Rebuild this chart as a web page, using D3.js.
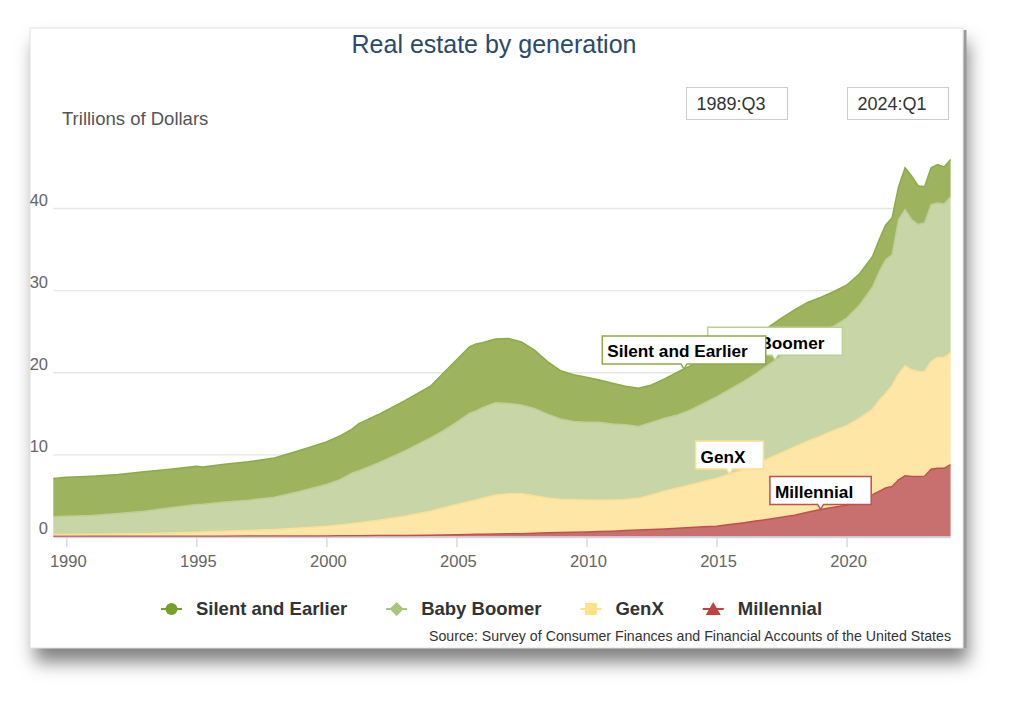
<!DOCTYPE html>
<html>
<head>
<meta charset="utf-8">
<script src="https://cdn.jsdelivr.net/npm/d3@7/dist/d3.min.js"></script>
<style>
  body { margin: 0; background: #fff; }
  svg { display: block; font-family: "Liberation Sans", Arial, sans-serif; }
</style>
</head>
<body>
<div id="chart"></div>
<script>
// Quarterly dates (denser where the shape changes)
const quarters = ["1989:Q3","1990:Q1","1991:Q1","1992:Q1","1993:Q1","1994:Q1","1995:Q1","1995:Q2","1996:Q1","1997:Q1",
  "1998:Q1","1999:Q1","2000:Q1","2000:Q3","2001:Q1","2001:Q2","2002:Q1","2003:Q1","2004:Q1","2004:Q3",
  "2005:Q1","2005:Q3","2005:Q4","2006:Q1","2006:Q3","2007:Q1","2007:Q3","2008:Q1","2008:Q3","2009:Q1",
  "2009:Q3","2010:Q1","2010:Q3","2011:Q1","2011:Q3","2012:Q1","2012:Q3","2013:Q1","2013:Q3","2014:Q1",
  "2014:Q3","2015:Q1","2015:Q3","2016:Q1","2016:Q3","2017:Q1","2017:Q3","2018:Q1","2018:Q3","2019:Q1",
  "2019:Q3","2020:Q1","2020:Q3","2021:Q1","2021:Q2","2021:Q3","2021:Q4","2022:Q1","2022:Q2","2022:Q3",
  "2022:Q4","2023:Q1","2023:Q2","2023:Q3","2023:Q4","2024:Q1"];

// Trillions of dollars, per generation
const silent = [4.66,4.73,4.80,4.75,4.79,4.71,4.66,4.53,4.58,4.67,
  4.78,5.00,5.17,5.30,5.35,5.75,5.88,6.10,6.30,7.00,
  7.60,8.10,8.15,7.90,7.75,7.90,7.70,7.10,6.40,5.90,
  5.70,5.50,5.15,4.95,4.70,4.65,4.55,4.80,5.20,5.40,
  5.30,5.20,5.00,4.80,4.70,4.60,4.60,4.60,4.50,4.20,
  4.20,4.00,3.80,3.70,3.90,4.20,4.50,4.00,5.10,5.30,
  4.70,4.40,4.50,4.70,4.50,4.50];
const boomer = [2.15,2.22,2.27,2.50,2.75,3.07,3.38,3.37,3.55,3.69,
  3.94,4.45,5.08,5.50,6.17,6.32,6.99,7.93,8.92,9.41,
  10.00,10.75,10.85,11.05,11.25,11.00,10.80,10.65,10.20,9.75,
  9.50,9.45,9.45,9.25,9.10,8.75,8.85,8.85,8.90,9.10,
  9.50,9.90,10.30,10.70,11.00,11.40,11.80,12.10,12.40,12.70,
  12.70,13.10,13.80,14.90,15.60,16.30,15.90,18.80,19.00,18.30,
  17.90,18.10,19.10,18.80,18.70,19.00];
const genx = [0.23,0.23,0.26,0.27,0.30,0.39,0.48,0.51,0.59,0.68,
  0.80,0.99,1.18,1.32,1.49,1.58,1.87,2.34,2.93,3.32,
  3.70,4.00,4.18,4.37,4.75,4.88,4.85,4.56,4.25,4.05,
  3.98,3.90,3.85,3.80,3.78,3.85,4.20,4.63,4.90,5.20,
  5.52,5.85,6.15,6.45,6.92,7.40,7.85,8.30,8.65,8.90,
  9.35,9.70,10.00,10.40,11.10,11.50,12.30,12.90,13.40,13.00,
  12.80,12.75,13.10,13.50,13.50,13.64];
const millennial = [0.02,0.02,0.02,0.03,0.03,0.03,0.04,0.04,0.04,0.05,
  0.05,0.06,0.07,0.08,0.09,0.10,0.11,0.13,0.15,0.17,
  0.20,0.25,0.27,0.28,0.30,0.32,0.35,0.39,0.45,0.50,
  0.52,0.55,0.60,0.65,0.72,0.80,0.85,0.92,1.00,1.10,
  1.18,1.25,1.45,1.65,1.88,2.10,2.35,2.60,2.95,3.30,
  3.55,3.80,4.40,5.10,5.50,5.90,6.10,6.90,7.40,7.30,
  7.30,7.35,8.20,8.30,8.30,8.76];

const seriesNames = ["Silent and Earlier", "Baby Boomer", "GenX", "Millennial"];
const xTicks = [1990, 1995, 2000, 2005, 2010, 2015, 2020];
const yTicks = [0, 10, 20, 30, 40];
// quarter each in-chart label points at
const labelQuarters = {"Silent and Earlier": "2013:Q4", "Baby Boomer": "2017:Q2", "GenX": "2015:Q3", "Millennial": "2019:Q1"};
const rangeLabels = ["1989:Q3", "2024:Q1"];

const W = 1024, H = 709;
const plot = {left: 53.3, right: 950.6, top: 208, bottom: 536.5};

const fills = {"Silent and Earlier": "#9eb35e", "Baby Boomer": "#c8d5a6", "GenX": "#fde6a6", "Millennial": "#c87070"};
const lines = {"Silent and Earlier": "#8cab48", "Baby Boomer": "#bccf94", "GenX": "#fcdf96", "Millennial": "#c0504d"};
const markers = {"Silent and Earlier": "#77a02b", "Baby Boomer": "#a9c47f", "GenX": "#fde28a", "Millennial": "#c0413f"};

const toYear = q => +q.slice(0, 4) + (+q.slice(6) - 1) / 4;

const rows = quarters.map((q, i) => ({
  t: toYear(q),
  "Silent and Earlier": silent[i],
  "Baby Boomer": boomer[i],
  "GenX": genx[i],
  "Millennial": millennial[i]
}));

const stack = d3.stack().keys(seriesNames.slice().reverse());
const layers = stack(rows);

const x = d3.scaleLinear().domain([toYear(quarters[0]), toYear(quarters[quarters.length - 1])])
  .range([plot.left, plot.right]);
const y = d3.scaleLinear().domain([0, 40]).range([plot.bottom, plot.top]);

const svg = d3.select("#chart").append("svg").attr("width", W).attr("height", H);

// card with drop shadow
const defs = svg.append("defs");
const f = defs.append("filter").attr("id", "shadow").attr("x", "-10%").attr("y", "-10%").attr("width", "125%").attr("height", "130%");
f.append("feDropShadow").attr("dx", 5).attr("dy", 14).attr("stdDeviation", 9)
  .attr("flood-color", "#000").attr("flood-opacity", 0.5);

svg.append("rect").attr("x", 30).attr("y", 28).attr("width", 933).attr("height", 620)
  .attr("fill", "#fff").attr("filter", "url(#shadow)");
svg.append("line").attr("x1", 965).attr("x2", 965).attr("y1", 30).attr("y2", 648)
  .attr("stroke", "#9a9a9a").attr("stroke-width", 3);
svg.append("rect").attr("x", 30).attr("y", 28).attr("width", 933).attr("height", 620)
  .attr("fill", "#fff").attr("stroke", "#e2e2e2");

// title
svg.append("text").attr("x", 494).attr("y", 53).attr("text-anchor", "middle")
  .attr("font-size", "25px").attr("fill", "#2b4a6b").text("Real estate by generation");

// range boxes
rangeLabels.forEach((r, i) => {
  const bx = i === 0 ? 686.5 : 847.5;
  svg.append("rect").attr("x", bx).attr("y", 87.5).attr("width", 101).attr("height", 32)
    .attr("fill", "#fff").attr("stroke", "#cccccc");
  svg.append("text").attr("x", bx + 10).attr("y", 110).attr("font-size", "18px").attr("fill", "#333").text(r);
});

svg.append("text").attr("x", 62).attr("y", 125).attr("font-size", "18.5px").attr("fill", "#555")
  .text("Trillions of Dollars");

// y gridlines and labels
const yAxis = svg.append("g").attr("transform", `translate(${plot.left},0)`)
  .call(d3.axisLeft(y).tickValues(yTicks).tickSize(-(plot.right - plot.left)));
yAxis.select(".domain").remove();
yAxis.selectAll(".tick line").attr("stroke", "#e6e6e6").attr("stroke-width", 1.3)
  .filter(d => d === 0).remove();
yAxis.selectAll(".tick text").attr("x", -5.3).attr("dy", 0).attr("y", -3)
  .attr("font-size", "16.5px").attr("font-family", "Liberation Sans, Arial, sans-serif").attr("fill", "#666");

// stacked areas
const area = d3.area().x(d => x(d.data.t)).y0(d => y(d[0])).y1(d => y(d[1]));
const topLine = d3.line().x(d => x(d.data.t)).y(d => y(d[1]));

svg.append("g").selectAll("path").data(layers).join("path")
  .attr("d", area).attr("fill", d => fills[d.key]);
svg.append("g").selectAll("path").data(layers).join("path")
  .attr("d", topLine).attr("fill", "none").attr("stroke", d => lines[d.key]).attr("stroke-width", 1.5);

// x axis
const xAxis = svg.append("g").attr("transform", `translate(0,${plot.bottom + 0.5})`)
  .call(d3.axisBottom(x).tickValues(xTicks).tickFormat(d3.format("d")).tickSize(10).tickSizeOuter(0));
xAxis.select(".domain").attr("stroke", "#ccd6eb").attr("stroke-width", 1.5);
xAxis.selectAll(".tick line").attr("stroke", "#ccd6eb").attr("stroke-width", 1.3);
xAxis.selectAll(".tick text").attr("y", 30).attr("dy", 0).attr("x", 1.5)
  .attr("font-size", "16.5px").attr("font-family", "Liberation Sans, Arial, sans-serif").attr("fill", "#666");

// in-chart series labels
function topAt(layer, t) {
  const i = d3.bisector(d => d.data.t).right(layer, t);
  const a = layer[Math.max(0, i - 1)], b = layer[Math.min(layer.length - 1, i)];
  if (a === b) return a[1];
  const k = (t - a.data.t) / (b.data.t - a.data.t);
  return a[1] + k * (b[1] - a[1]);
}
const labelOrder = ["Millennial", "GenX", "Baby Boomer", "Silent and Earlier"];
const labelG = svg.append("g");
labelOrder.forEach(name => {
  const layer = layers.find(l => l.key === name);
  const t = toYear(labelQuarters[name]);
  const ax = x(t), ay = y(topAt(layer, t));
  const g = labelG.append("g");
  const path = g.append("path");
  const txt = g.append("text").attr("font-size", "17.2px").attr("font-weight", "bold").attr("fill", "#000").text(name);
  const tw = txt.node().getComputedTextLength();
  const bw = tw + 23, bh = 28;
  const left = ax - bw / 2, bottom = ay - 5, top = bottom - bh;
  path.attr("d", `M${left},${top}H${left + bw}V${bottom}H${ax + 3}L${ax},${ay}L${ax - 3},${bottom}H${left}Z`)
    .attr("fill", "#fff").attr("stroke", lines[name] === "#fcdf96" ? "#fde08c" : lines[name]).attr("stroke-width", 1.5);
  txt.attr("x", left + 5).attr("y", top + 21.5);
});

// legend
const legend = svg.append("g");
let lx = 161;
const ly = 609;
seriesNames.forEach(name => {
  const c = markers[name];
  const g = legend.append("g");
  g.append("line").attr("x1", lx).attr("x2", lx + 21).attr("y1", ly).attr("y2", ly)
    .attr("stroke", c).attr("stroke-width", 2);
  const cx = lx + 10.5;
  if (name === "Silent and Earlier") {
    g.append("circle").attr("cx", cx).attr("cy", ly).attr("r", 6).attr("fill", c);
  } else if (name === "Baby Boomer") {
    g.append("path").attr("d", `M${cx},${ly - 7}L${cx + 7},${ly}L${cx},${ly + 7}L${cx - 7},${ly}Z`).attr("fill", c);
  } else if (name === "GenX") {
    g.append("rect").attr("x", cx - 6).attr("y", ly - 6).attr("width", 12).attr("height", 12).attr("fill", c);
  } else {
    g.append("path").attr("d", `M${cx},${ly - 7}L${cx + 7.5},${ly + 6}L${cx - 7.5},${ly + 6}Z`).attr("fill", c);
  }
  const t = g.append("text").attr("x", lx + 35).attr("y", ly + 6).attr("font-size", "18.5px")
    .attr("font-weight", "bold").attr("fill", "#333").text(name);
  lx = lx + 35 + t.node().getComputedTextLength() + 39;
});

// source
svg.append("text").attr("x", 951).attr("y", 641).attr("text-anchor", "end")
  .attr("font-size", "14.2px").attr("fill", "#333")
  .text("Source: Survey of Consumer Finances and Financial Accounts of the United States");
</script>
</body>
</html>
